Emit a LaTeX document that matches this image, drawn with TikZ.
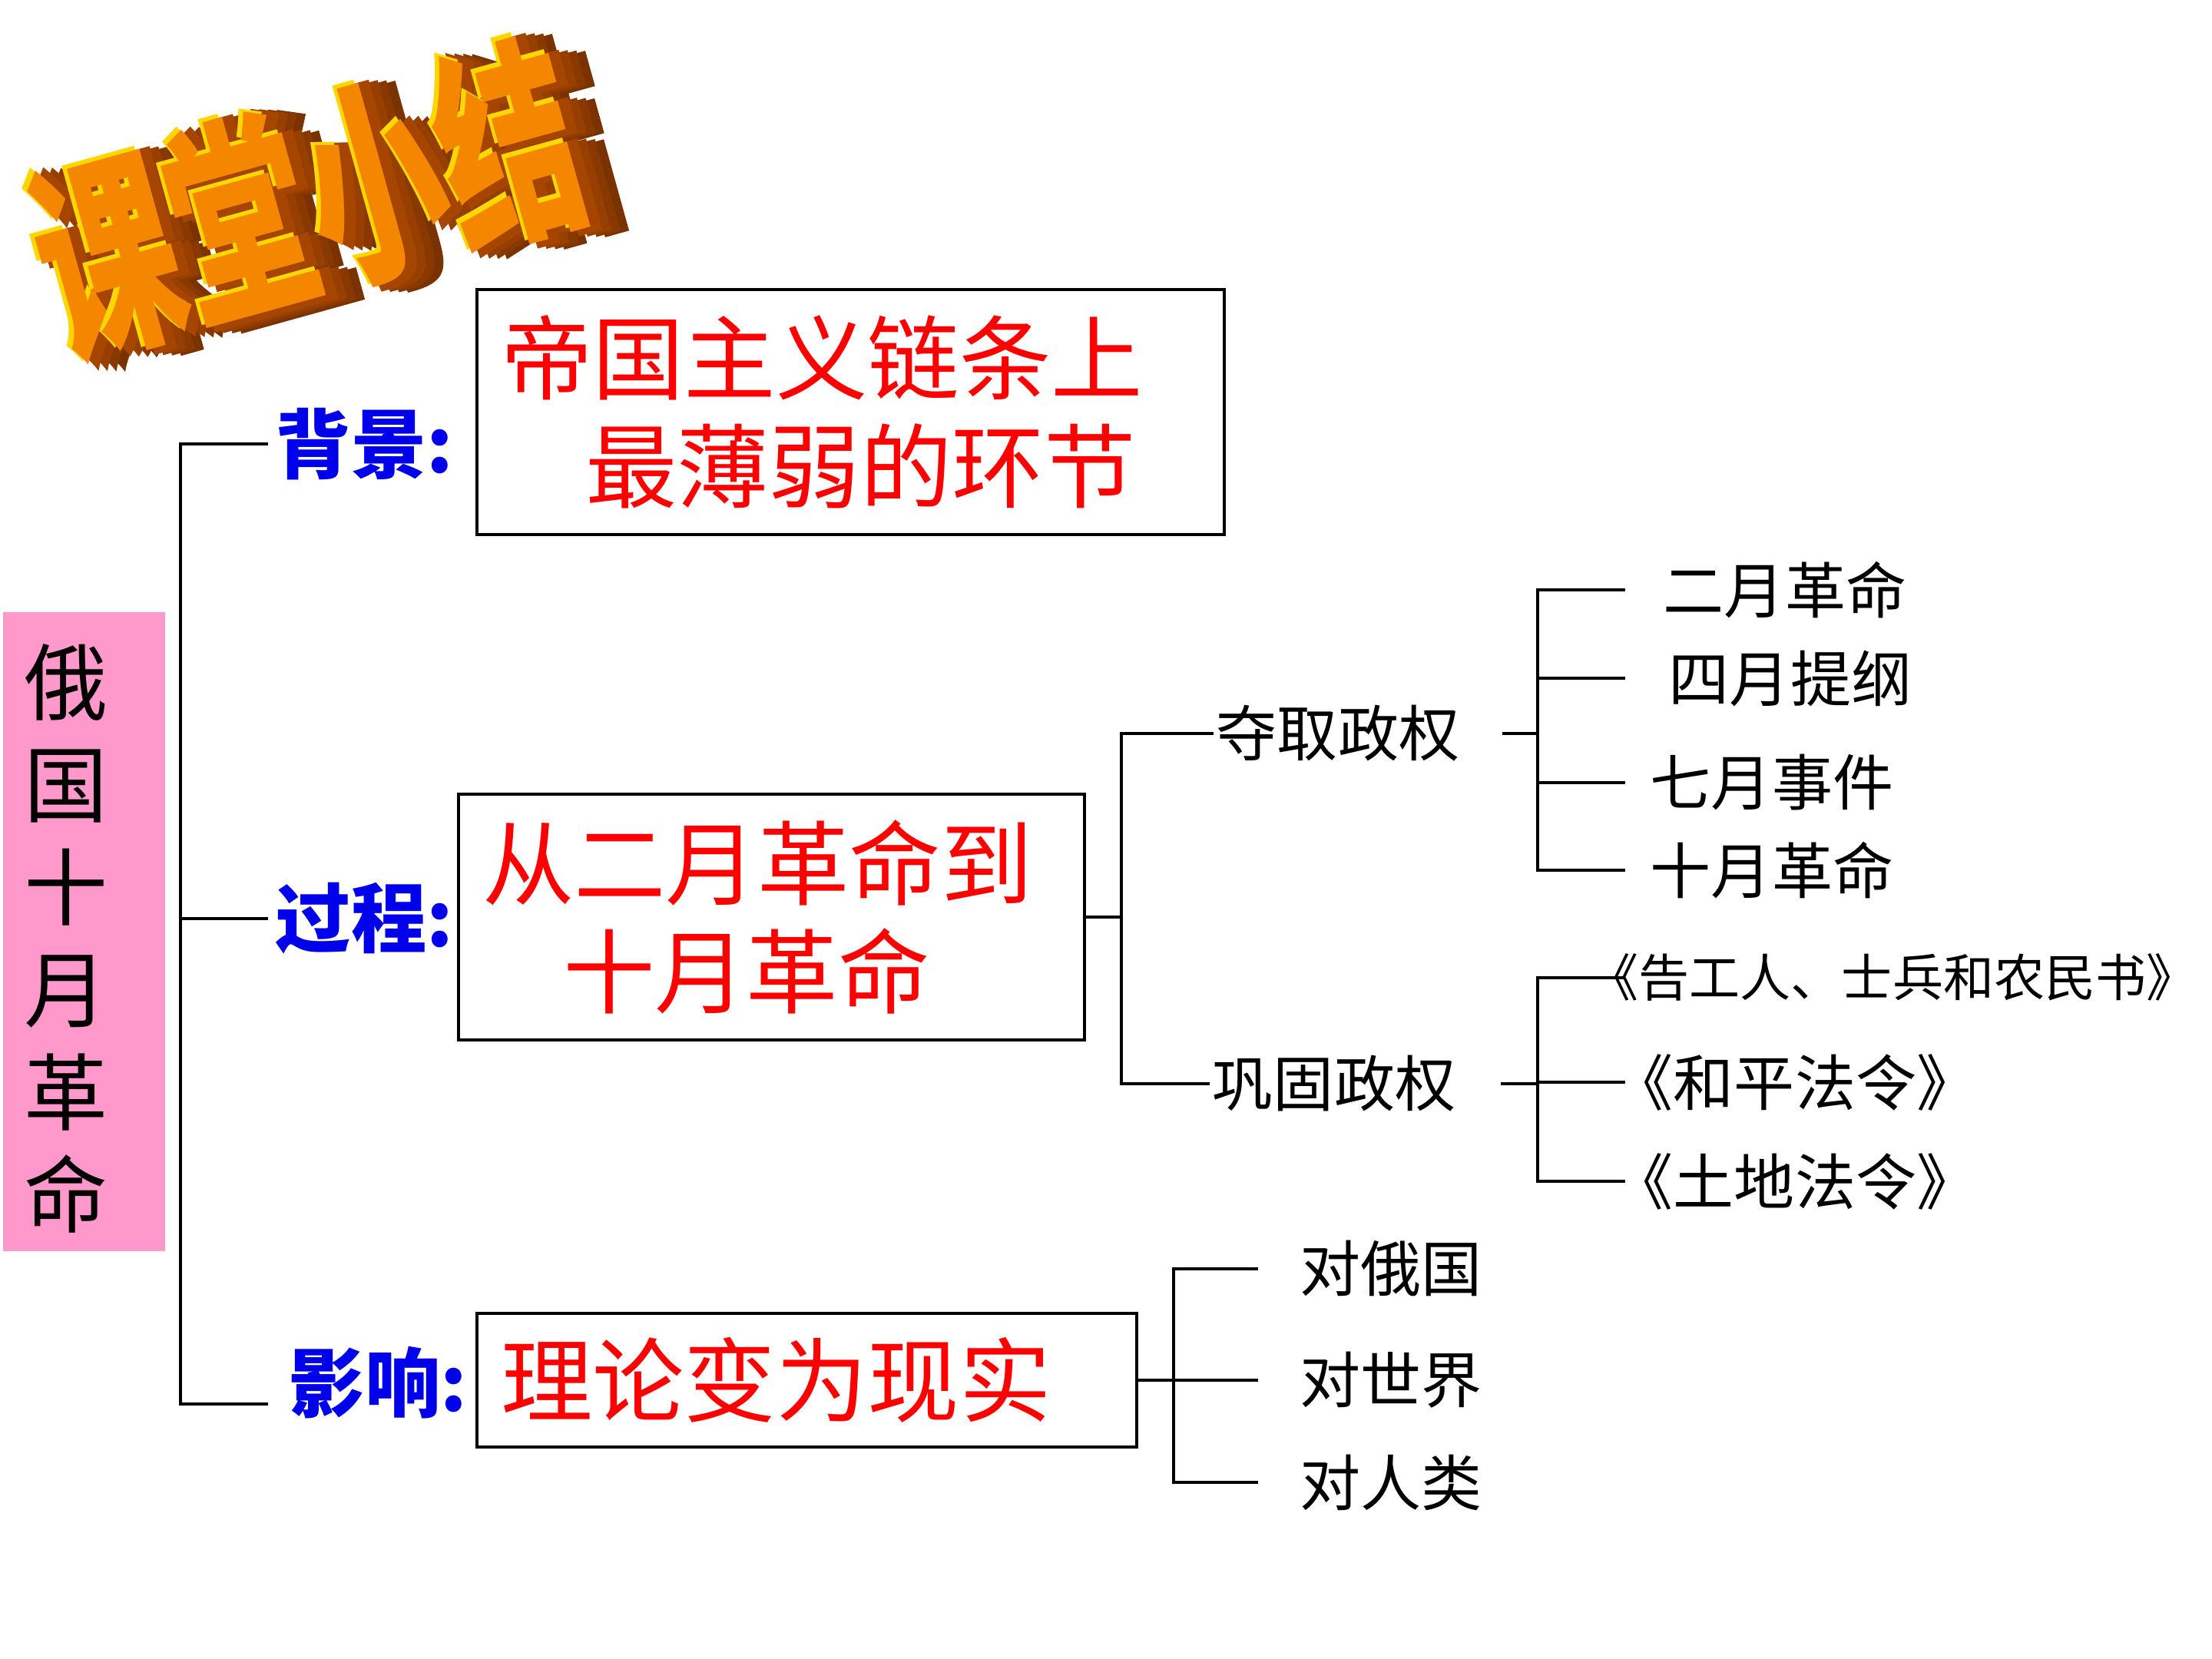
\documentclass[tikz,border=0pt]{standalone}
\usepackage{fontspec}
\setmainfont{Noto Sans CJK SC}
\newfontfamily\ttlthick{Noto Sans CJK SC}[FakeBold=3]
\definecolor{rosa}{RGB}{255,153,204}
\definecolor{tagblue}{RGB}{0,0,235}
\definecolor{ttlface}{RGB}{245,135,0}
\definecolor{ttlside}{RGB}{180,75,0}
\definecolor{ttlhigh}{RGB}{255,215,0}
\begin{document}
\begin{tikzpicture}[
  redbox/.style={draw,rectangle,line width=1.2pt,text=red,font=\fontsize{34}{40}\selectfont},
  tag/.style={text=tagblue,anchor=west,inner sep=0pt,font=\fontsize{28}{30}\selectfont\bfseries},
  leaf/.style={inner sep=1pt,font=\fontsize{22.5}{26}\selectfont},
  ttl/.style={rotate=15.5,inner sep=0pt,font=\fontsize{57}{60}\selectfont\bfseries},
  conn/.style={line width=0.9pt}
]
\useasboundingbox (0,0) rectangle (28.8,21.6);

% title with a rough 3D look
\foreach \k in {4,3,2,1}
  \node[ttl,font=\fontsize{57}{60}\selectfont\ttlthick\bfseries,text=ttlside!\the\numexpr100-\k*8\relax!black,xshift={1.1mm*\k},yshift={-0.35mm*\k}] (side\k) at (4.0,19.0) {\scalebox{0.9}[1.4]{课堂小结}};
\node[ttl,text=ttlhigh,xshift=-0.5mm,yshift=0.6mm] (high) at (4.0,19.0) {\scalebox{0.9}[1.4]{课堂小结}};
\node[ttl,text=ttlface] (title) at (4.0,19.0) {\scalebox{0.9}[1.4]{课堂小结}};

% root
\node[fill=rosa,minimum width=2.11cm,minimum height=8.32cm] (root) at (1.095,9.47) {};
\node[align=center,inner sep=0pt,font=\fontsize{31}{38}\selectfont] (roottxt) at (0.86,9.38) {俄\\国\\十\\月\\革\\命};

% three branches
\node[tag] (bgt) at (3.58,15.82) {背景:};
\node[tag] (gct) at (3.58,9.64) {过程:};
\node[tag] (yxt) at (3.76,3.60) {影响:};

\node[redbox,text width=9.11cm,inner xsep=0.31cm,minimum height=3.19cm,align=left] (bgbox) at (11.075,16.235) {帝国主义链条上\\\hspace*{1.1cm}最薄弱的环节};
\node[redbox,text width=7.53cm,inner xsep=0.31cm,minimum height=3.2cm,align=left] (gcbox) at (10.045,9.66) {从二月革命到\\\hspace*{1.05cm}十月革命};
\node[redbox,text width=7.97cm,inner xsep=0.31cm,minimum height=1.74cm,align=left] (yxbox) at (10.505,3.63) {理论变为现实};

\coordinate (tr) at (2.35,0);
\coordinate (yxend) at ([xshift=-2.7mm,yshift=-2.8mm]yxt.west);
\draw[conn] ([xshift=-0.9mm]bgt.west) -- (tr |- bgt.west) -- (tr |- yxend) -- (yxend);
\draw[conn] ([xshift=-0.9mm]gct.west) -- (tr |- gct.west);

% process
\node[leaf] (dq) at (17.42,12.05) {夺取政权};
\node[leaf] (gg) at (17.37,7.49) {巩固政权};
\coordinate (gj) at (14.60,9.66);
\draw[conn] (gcbox.east) -- (gj);
\draw[conn] (dq.west) -| (gj |- gg.west) -- (gg.west);

\node[leaf] (em) at (23.24,13.92) {二月革命};
\node[leaf] (sy) at (23.31,12.77) {四月提纲};
\node[leaf] (qy) at (23.07,11.41) {七月事件};
\node[leaf] (sg) at (23.07,10.27) {十月革命};
\node[leaf,font=\fontsize{18.8}{22}\selectfont] (gs) at (24.64,8.87) {《告工人、士兵和农民书》};
\node[leaf] (hp) at (23.37,7.51) {《和平法令》};
\node[leaf] (td) at (23.37,6.22) {《土地法令》};

\coordinate (ja) at (20.02,0);
\coordinate (ea) at (21.16,0);
\draw[conn] ([xshift=5.2mm]dq.east) -- (ja |- dq);
\draw[conn] (ea |- em) -| (ja |- sg) -- (ea |- sg);
\draw[conn] (ja |- sy) -- (ea |- sy);
\draw[conn] (ja |- qy) -- (ea |- qy);
\draw[conn] ([xshift=5.5mm]gg.east) -- (ja |- gg);
\draw[conn] (ea |- gs) -| (ja |- td) -- (ea |- td);
\draw[conn] (ja |- hp) -- (ea |- hp);

% influence
\node[leaf] (ew) at (18.11,5.08) {对俄国};
\node[leaf] (sj) at (18.11,3.63) {对世界};
\node[leaf] (rl) at (18.11,2.30) {对人类};
\coordinate (jb) at (15.28,0);
\coordinate (eb) at (16.38,0);
\draw[conn] (yxbox.east) -- (jb |- yxbox.east);
\draw[conn] (eb |- ew) -| (jb |- rl) -- (eb |- rl);
\draw[conn] (jb |- sj) -- (eb |- sj);
\end{tikzpicture}
\end{document}
